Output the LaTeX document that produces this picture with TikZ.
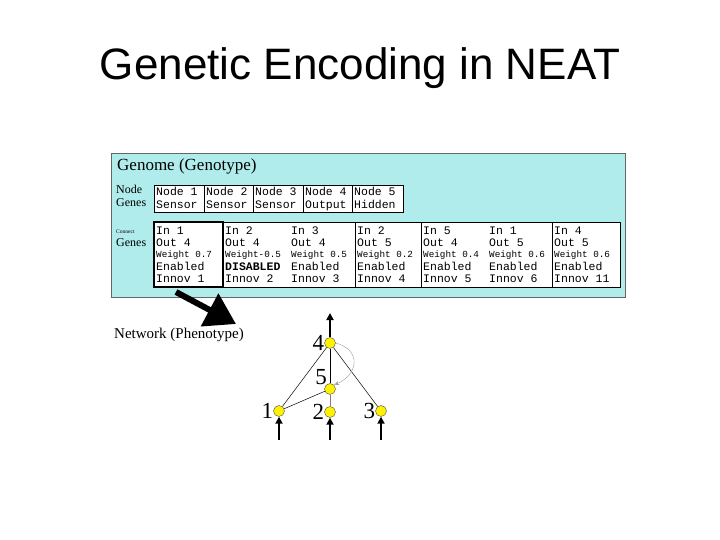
\documentclass[tikz,border=0pt]{standalone}
\usepackage{fontspec}
\setmainfont{Liberation Serif}
\newfontfamily\arial{Liberation Sans}
\newfontfamily\mono{Liberation Mono}
\usetikzlibrary{arrows.meta}
\definecolor{genbg}{RGB}{176,236,236}
\begin{document}
\begin{tikzpicture}[x=1pt,y=-1pt,
  gtxt/.style={font=\mono\fontsize{11.5}{12}\selectfont,anchor=base west,inner sep=0},
  wtxt/.style={font=\mono\fontsize{9.3}{10}\selectfont,anchor=base west,inner sep=0},
  gbox/.style={draw,fill=white,line width=0.6pt},
  yn/.style={circle,fill=yellow,draw=black!70,inner sep=0,minimum size=11pt},
  nl/.style={font=\fontsize{23}{23}\selectfont,inner sep=0},
  inarr/.style={-{Triangle[length=7pt,width=7pt]},line width=2pt}]
\useasboundingbox (0,0) rectangle (720,540);
\node[font=\arial\fontsize{44}{44}\selectfont] (title) at (360,68) {Genetic Encoding in NEAT};
\node[draw=black!60,fill=genbg,minimum width=514pt,minimum height=144pt,anchor=north west,inner sep=0] (genome) at (111,153) {};
\node[anchor=west,font=\fontsize{17}{17}\selectfont,inner sep=0] (gt) at (117,166) {Genome (Genotype)};
\node[anchor=north west,font=\fontsize{12}{13}\selectfont,inner sep=0,align=left] (ng) at (116,185) {Node\\Genes};
\node[anchor=north west,font=\fontsize{5.5}{5}\selectfont,inner sep=0] (cg1) at (116,230) {Connect};
\node[anchor=north west,font=\fontsize{12}{12}\selectfont,inner sep=0] (cg2) at (116,238) {Genes};
% node genes
\foreach \a/\b/\n/\t [count=\i] in {154/204/1/Sensor,204/253/2/Sensor,253/303/3/Sensor,303/352/4/Output,352/403/5/Hidden}{
  \draw[gbox] (\a,185) rectangle (\b,212);
  \node[gtxt] (n\i) at (\a+2,196) {Node \n};
  \node[gtxt] (t\i) at (\a+2,209) {\t};
}
% connection genes boxes
\draw[gbox] (223,222) rectangle (355,287);
\draw[gbox] (355,222) rectangle (421,287);
\draw[gbox] (421,222) rectangle (552,287);
\draw[gbox] (552,222) rectangle (620,287);
\draw[gbox,line width=1.2pt] (154,222) rectangle (223,287);
\foreach \x/\i/\o/\w/\e/\n [count=\k] in {156/1/4/ 0.7/Enabled/1,225/2/4/-0.5/\textbf{DISABLED}/2,291/3/4/ 0.5/Enabled/3,357/2/5/ 0.2/Enabled/4,423/5/4/ 0.4/Enabled/5,489/1/5/ 0.6/Enabled/6,554/4/5/ 0.6/Enabled/11}{
  \node[gtxt] (ci\k) at (\x,234) {In \i};
  \node[gtxt] (co\k) at (\x,246) {Out \o};
  \node[wtxt] (w\k) at (\x,257) {Weight\w};
  \node[gtxt] (e\k) at (\x,270) {\e};
  \node[gtxt] (n\k) at (\x,282) {Innov \n};
}
\node[anchor=west,font=\fontsize{15}{15}\selectfont,inner sep=0] (net) at (114,335) {Network (Phenotype)};
\coordinate (ba) at (176,292);
\coordinate (bb) at (236,324);
\draw[line width=6pt,-{Triangle[length=30pt,width=36pt]}] (ba) -- (bb);
% network
\node[yn] (v4) at (330,343) {};
\node[yn] (v5) at (330,389) {};
\node[yn] (v1) at (279,411) {};
\node[yn] (v2) at (330,412) {};
\node[yn] (v3) at (381,411) {};
\node[nl,anchor=east] at (v4.west) {4};
\node[nl,anchor=south east] at ([xshift=1pt]v5.north west) {5};
\node[nl,anchor=east] at (v1.west) {1};
\node[nl,anchor=east] at (v2.west) {2};
\node[nl,anchor=east] at (v3.west) {3};
\draw[line width=0.5pt] (v1) -- (v4);
\draw[line width=0.5pt] (v1) -- (v5);
\draw[line width=0.5pt] (v3) -- (v4);
\draw[line width=0.5pt,black!50] (v5) -- (v2);
\draw[line width=0.5pt] (v5) -- (v4);
\draw[black!40,-{Stealth[length=5pt]}] (v4.east) .. controls (362,350) and (358,375) .. (v5.north east);
\coordinate (o4) at (330,313);
\coordinate (i1) at (279,440);
\coordinate (i2) at (330,440);
\coordinate (i3) at (381,440);
\draw[inarr] (v4.north) -- (o4);
\draw[inarr] (i1) -- (v1.south);
\draw[inarr] (i2) -- (v2.south);
\draw[inarr] (i3) -- (v3.south);
\end{tikzpicture}
\end{document}
